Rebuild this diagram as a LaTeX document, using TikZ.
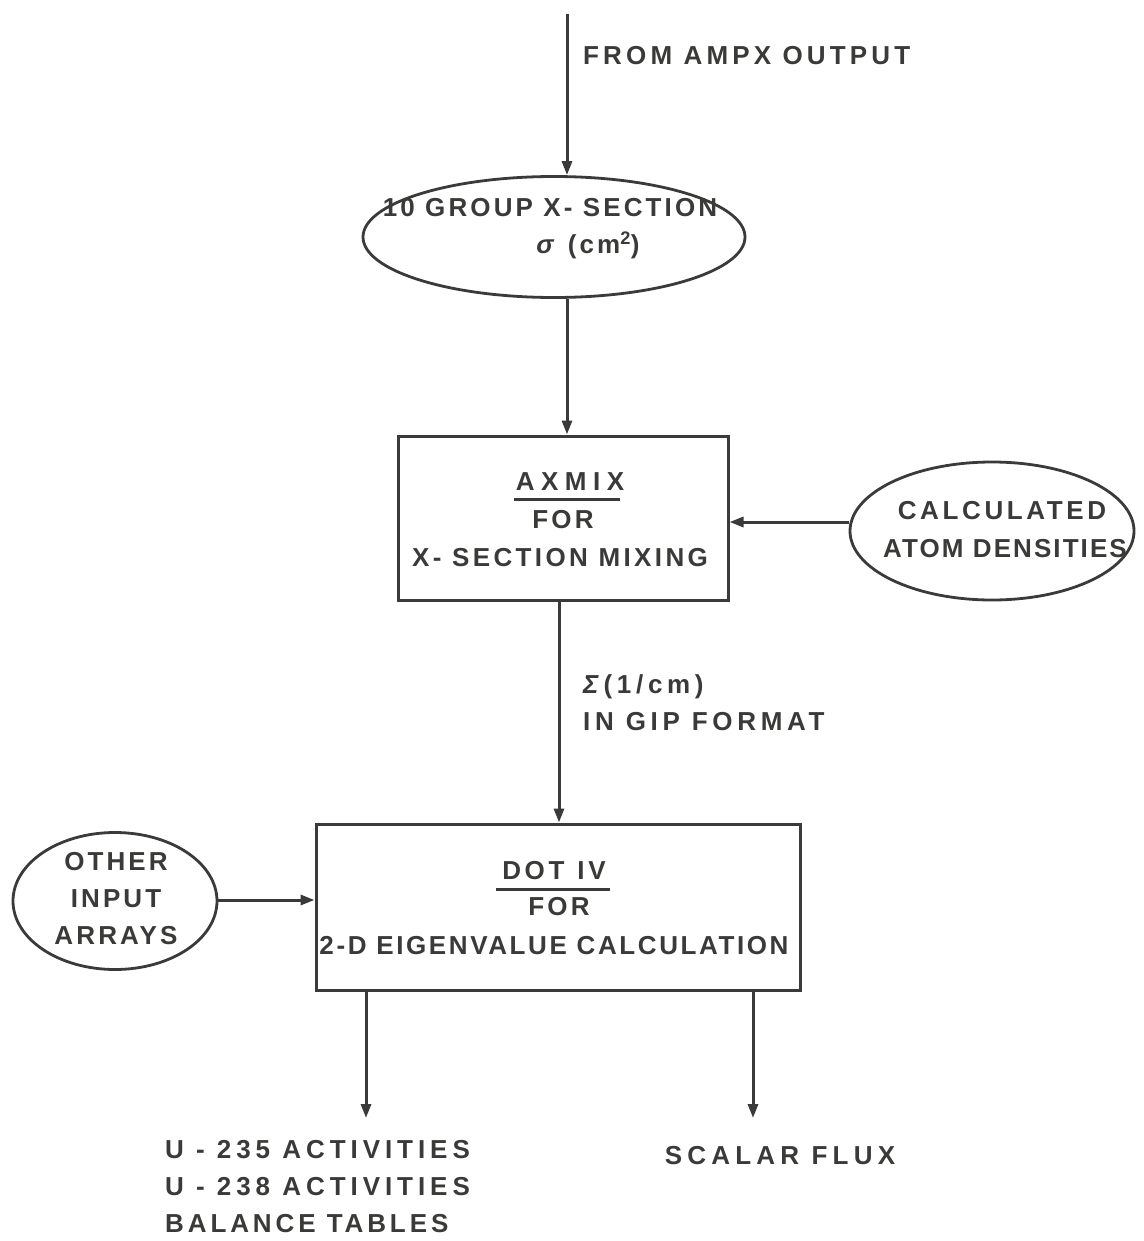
\documentclass[tikz,border=0pt]{standalone}
\usepackage{fontspec}
\setmainfont{Liberation Sans}[LetterSpace=12]
\usetikzlibrary{shapes.geometric,arrows.meta,calc}
\definecolor{ink}{HTML}{3A3A38}
\newcommand\lsp[1]{\addfontfeature{LetterSpace=#1}}
\tikzset{
  lbl/.style={text=ink, font=\fontsize{26}{37}\selectfont\bfseries, inner sep=0pt, align=center},
  procbox/.style={draw=ink, line width=3pt, rectangle, inner sep=0pt},
  dataell/.style={draw=ink, line width=2.8pt, ellipse, inner sep=0pt},
  arr/.style={draw=ink, line width=3pt, -{Triangle[length=14pt,width=10pt]}},
  uline/.style={draw=ink, line width=2.8pt},
}
\begin{document}
\begin{tikzpicture}[x=1pt,y=-1pt]
\useasboundingbox (0,0) rectangle (1143,1241);
% shapes
\node[dataell, minimum width=382pt, minimum height=121pt] (e1) at (554,237) {};
\node[procbox, minimum width=330pt, minimum height=164pt] (axmix) at (563,518) {};
\node[dataell, minimum width=284pt, minimum height=138pt] (e2) at (992,531) {};
\node[procbox, minimum width=484pt, minimum height=166pt] (dot) at (558,907) {};
\node[dataell, minimum width=204pt, minimum height=137pt] (e3) at (115,901) {};
% coordinates
\coordinate (top) at (567,14);
\coordinate (mid) at (559,0);
\coordinate (inR) at (0,522);
\coordinate (inL) at (0,900);
\coordinate (out1) at (366,1118);
\coordinate (out2) at (753,1118);
% connectors
\draw[arr] (top) -- (e1.north -| top);
\draw[arr] (e1.south -| top) -- (axmix.north -| top);
\draw[arr] (e2.west |- inR) -- (axmix.east |- inR);
\draw[arr] (axmix.south -| mid) -- (dot.north -| mid);
\draw[arr] (e3.east |- inL) -- (dot.west |- inL);
\draw[arr] (dot.south -| out1) -- (out1);
\draw[arr] (dot.south -| out2) -- (out2);
% texts
\node[lbl, anchor=west] (tfrom) at (583,56) {\lsp{16}FROM AMPX OUTPUT};
\node[lbl] (t1a) at (550,208) {10 GROUP X- SECTION};
\node[lbl] (t1b) at (588,245) {\textit{σ} (cm\textsuperscript{2})};
\node[lbl] (t2a) at (570,482) {\lsp{25}AXMIX};
\draw[uline] ($(t2a.south west)+(-2,8)$) -- ($(t2a.south east)+(-4,8)$);
\node[lbl] (t2b) at (563,520) {FOR};
\node[lbl] (t2c) at (560,558) {\lsp{13}X- SECTION MIXING};
\node[lbl] (t3a) at (1002,511) {\lsp{14}CALCULATED};
\node[lbl] (t3b) at (1005,549) {\lsp{8}ATOM DENSITIES};
\node[lbl, anchor=west, align=left] (tsig) at (583,703) {\lsp{18}\textit{Σ}(1/cm)\\\lsp{18}IN GIP FORMAT};
\node[lbl] (t4a) at (554,871) {\lsp{14}DOT\enspace IV};
\draw[uline] ($(t4a.south west)+(-6,9)$) -- ($(t4a.south east)+(4,9)$);
\node[lbl] (t4b) at (559,907) {FOR};
\node[lbl] (t4c) at (554,946) {\lsp{10}2-D EIGENVALUE CALCULATION};
\node[lbl] (t5) at (116,899) {OTHER\\INPUT\\ARRAYS};
\node[lbl, anchor=west, align=left] (t6) at (165,1187) {\lsp{19}U - 235 ACTIVITIES\\\lsp{19}U - 238 ACTIVITIES\\\lsp{15}BALANCE TABLES};
\node[lbl] (t7) at (780,1156) {\lsp{20}SCALAR FLUX};
\end{tikzpicture}
\end{document}
